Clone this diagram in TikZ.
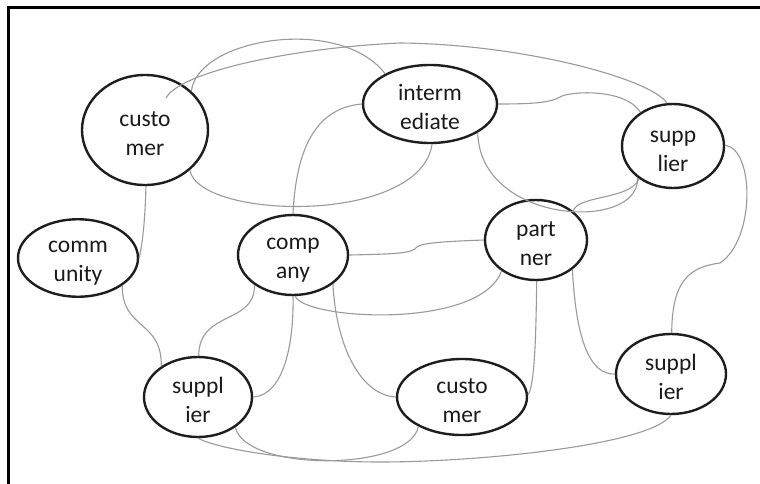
\documentclass[tikz,border=0pt]{standalone}
\usepackage{fontspec}
\setmainfont{Carlito}
\usetikzlibrary{shapes.geometric}
\definecolor{ink}{HTML}{1E1E1E}
\definecolor{wirecol}{HTML}{9A9A9A}
\definecolor{txt}{HTML}{1A1A1A}
% equal strut on every line so two-line labels sit alike
\newcommand\lnstrut{\rule{0pt}{22pt}}

\begin{document}
\begin{tikzpicture}[x=1pt,y=-1pt,
  bubble/.style={ellipse, draw=ink, line width=2.4pt, inner sep=0pt,
    align=center, text=txt, font=\fontsize{23.5}{29}\selectfont},
  wire/.style={draw=wirecol, line width=1.1pt}]
\useasboundingbox (0,0) rectangle (760,484);
\fill[white] (0,0) rectangle (760,484);
\draw[line width=3pt] (8,484) -- (8,8) -- (760,8);

% entities
\node[bubble, minimum width=126pt, minimum height=110pt] (custA) at (145,130) {\lnstrut custo\\\lnstrut mer};
\node[bubble, minimum width=134pt, minimum height=78pt] (inter) at (430,104) {\lnstrut interm\\\lnstrut ediate};
\node[bubble, minimum width=102pt, minimum height=84pt] (suppT) at (673,146) {\lnstrut supp\\\lnstrut lier};
\node[bubble, minimum width=120pt, minimum height=74pt] (comm) at (78,258) {\lnstrut comm\\\lnstrut unity};
\node[bubble, minimum width=110pt, minimum height=80pt] (comp) at (293,255) {\lnstrut comp\\\lnstrut any};
\node[bubble, minimum width=102pt, minimum height=80pt] (partner) at (536,240) {\lnstrut part\\\lnstrut ner};
\node[bubble, minimum width=108pt, minimum height=80pt] (supBL) at (198,397) {\lnstrut suppl\\\lnstrut ier};
\node[bubble, minimum width=130pt, minimum height=76pt] (custB) at (462,397) {\lnstrut custo\\\lnstrut mer};
\node[bubble, minimum width=110pt, minimum height=80pt] (supBR) at (671,374) {\lnstrut suppl\\\lnstrut ier};

\coordinate (custAin) at (166,98);

% links
\draw[wire] (custAin) .. controls (180,72) and (290,48) .. (400,43)
  .. controls (520,44) and (650,78) .. (suppT.98);
\draw[wire] (custA.40) .. controls (198,38) and (340,15) .. (inter.146);
\draw[wire] (custA.-42) .. controls (200,220) and (420,225) .. (inter.-87);
\draw[wire] (comp.90) .. controls (296,150) and (315,108) .. (inter.180);
\draw[wire] (custA.-89) .. controls (145,220) and (143,240) .. (comm.0);
\draw[wire] (comm.-32) .. controls (122,330) and (162,320) .. (supBL.140);
\draw[wire] (comp.-142) .. controls (255,325) and (199,310) .. (supBL.89);
\draw[wire] (comp.-90) .. controls (294,340) and (285,395) .. (supBL.0);
\draw[wire] (comp.-87) .. controls (305,320) and (480,330) .. (partner.-138);
\draw[wire] (comp.-36) .. controls (336,345) and (360,395) .. (custB.180);
\draw[wire] (comp.0) .. controls (400,254) and (412,253) .. (417,247)
  .. controls (422,242) and (460,241) .. (partner.180);
\draw[wire] (inter.0) .. controls (530,104) and (550,103) .. (560,97)
  .. controls (570,91) and (625,88) .. (suppT.134);
\draw[wire] (inter.-31) .. controls (480,225) and (640,232) .. (suppT.-138);
\draw[wire] (partner.38) .. controls (578,195) and (630,200) .. (suppT.-136);
\draw[wire] (suppT.1) .. controls (755,150) and (755,240) .. (720,263)
  .. controls (690,267) and (672,280) .. (supBR.89);
\draw[wire] (partner.-89) .. controls (536,330) and (535,385) .. (custB.2);
\draw[wire] (partner.-39) .. controls (576,340) and (590,375) .. (supBR.180);
\draw[wire] (supBR.-90) .. controls (650,445) and (480,462) .. (380,462)
  .. controls (300,462) and (220,450) .. (supBL.-90);
\draw[wire] (supBL.-39) .. controls (245,472) and (410,472) .. (custB.-146);
\end{tikzpicture}
\end{document}
